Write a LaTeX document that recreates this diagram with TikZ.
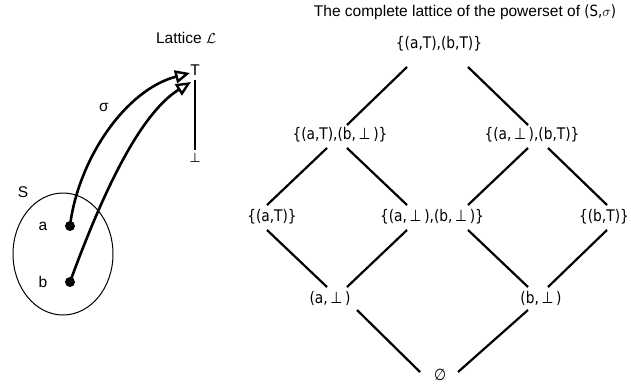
\documentclass[tikz,border=0pt]{standalone}
\usepackage{fontspec}
\setmainfont{Liberation Sans}
\newfontfamily\dejavu[FakeStretch=0.86]{DejaVu Sans}
\newfontfamily\dejavuplain{DejaVu Sans}
\usetikzlibrary{arrows.meta,calc,shapes.geometric}
\begin{document}
\begin{tikzpicture}[x=1pt,y=-1pt,
  lab/.style={font=\fontsize{15.5}{18}\selectfont, inner sep=0pt},
  lat/.style={font=\dejavu\fontsize{16}{19}\selectfont, inner sep=1pt},
  edge/.style={line width=2.2pt},
  arr/.style={line width=2.6pt, -{Triangle[open, length=15pt, width=13pt, line width=2.4pt]}},
  dotnode/.style={circle, fill=black, inner sep=0pt, minimum size=10pt},
  setshape/.style={draw, ellipse, line width=1pt, minimum width=100pt, minimum height=122pt, inner sep=0pt}]
\useasboundingbox (0,0) rectangle (631,386);

% left part
\node[lab] (latt) at (186,38) {Lattice $\mathcal{L}$};
\node[lab] (ltop) at (195,70) {T};
\node[inner sep=0pt, font=\dejavuplain\fontsize{13}{16}\selectfont] (lbot) at (195,158) {⊥};
\draw[line width=1.3pt, shorten <=4pt, shorten >=3pt] (ltop) -- (lbot);

\node[setshape] (set) at (63,254) {};
\node[lab] (slab) at (23,192) {S};
\node[dotnode] (a) at (70,226) {};
\node[dotnode] (b) at (70,282) {};
\node[lab] (alab) at (43,226) {a};
\node[lab] (blab) at (43,282) {b};
\node[lab] (sig) at (104,107) {σ};

\draw[arr] (a.center) .. controls (78,160) and (125,90) .. ($(ltop)+(-5,3)$);
\draw[arr] (b.center) .. controls (100,200) and (138,115) .. ($(ltop)+(-4,12)$);

% right part
\node[lab] (title) at (465,12) {The complete lattice of the powerset of {\dejavu(S,}$\sigma${\dejavu)}};

\node[lat] (top)  at (439,44)  {\{(a,T),(b,T)\}};
\node[lat] (atbb) at (340,135) {\{(a,T),(b,\,⊥\,)\}};
\node[lat] (abbt) at (532,135) {\{(a,\,⊥\,),(b,T)\}};
\node[lat] (at)   at (272,217) {\{(a,T)\}};
\node[lat] (abbb) at (432,217) {\{(a,\,⊥\,),(b,\,⊥\,)\}};
\node[lat] (bt)   at (604,217) {\{(b,T)\}};
\node[lat] (ab)   at (330,298) {(a,\,⊥\,)};
\node[lat] (bb)   at (541,298) {(b,\,⊥\,)};
\node[lat] (empty) at (440,375) {∅};

\draw[edge] ($(top)+(-32,23)$) -- ($(atbb)+(7,-10)$);
\draw[edge] ($(top)+(29,23)$) -- ($(abbt)+(-4,-10)$);
\draw[edge] ($(atbb)+(-13,13)$) -- ($(at)+(-5,-12)$);
\draw[edge] ($(atbb)+(7,13)$) -- ($(abbb)+(-25,-12)$);
\draw[edge] ($(abbt)+(-4,13)$) -- ($(abbb)+(36,-12)$);
\draw[edge] ($(abbt)+(16,13)$) -- ($(bt)+(3,-12)$);
\draw[edge] ($(at)+(-5,13)$) -- ($(ab)+(-3,-11)$);
\draw[edge] ($(abbb)+(-25,13)$) -- ($(ab)+(17,-11)$);
\draw[edge] ($(abbb)+(36,13)$) -- ($(bb)+(-13,-11)$);
\draw[edge] ($(bt)+(3,13)$) -- ($(bb)+(7,-11)$);
\draw[edge] ($(ab)+(27,12)$) -- ($(empty)+(-20,-3)$);
\draw[edge] ($(bb)+(-13,12)$) -- ($(empty)+(18,-3)$);
\end{tikzpicture}
\end{document}
